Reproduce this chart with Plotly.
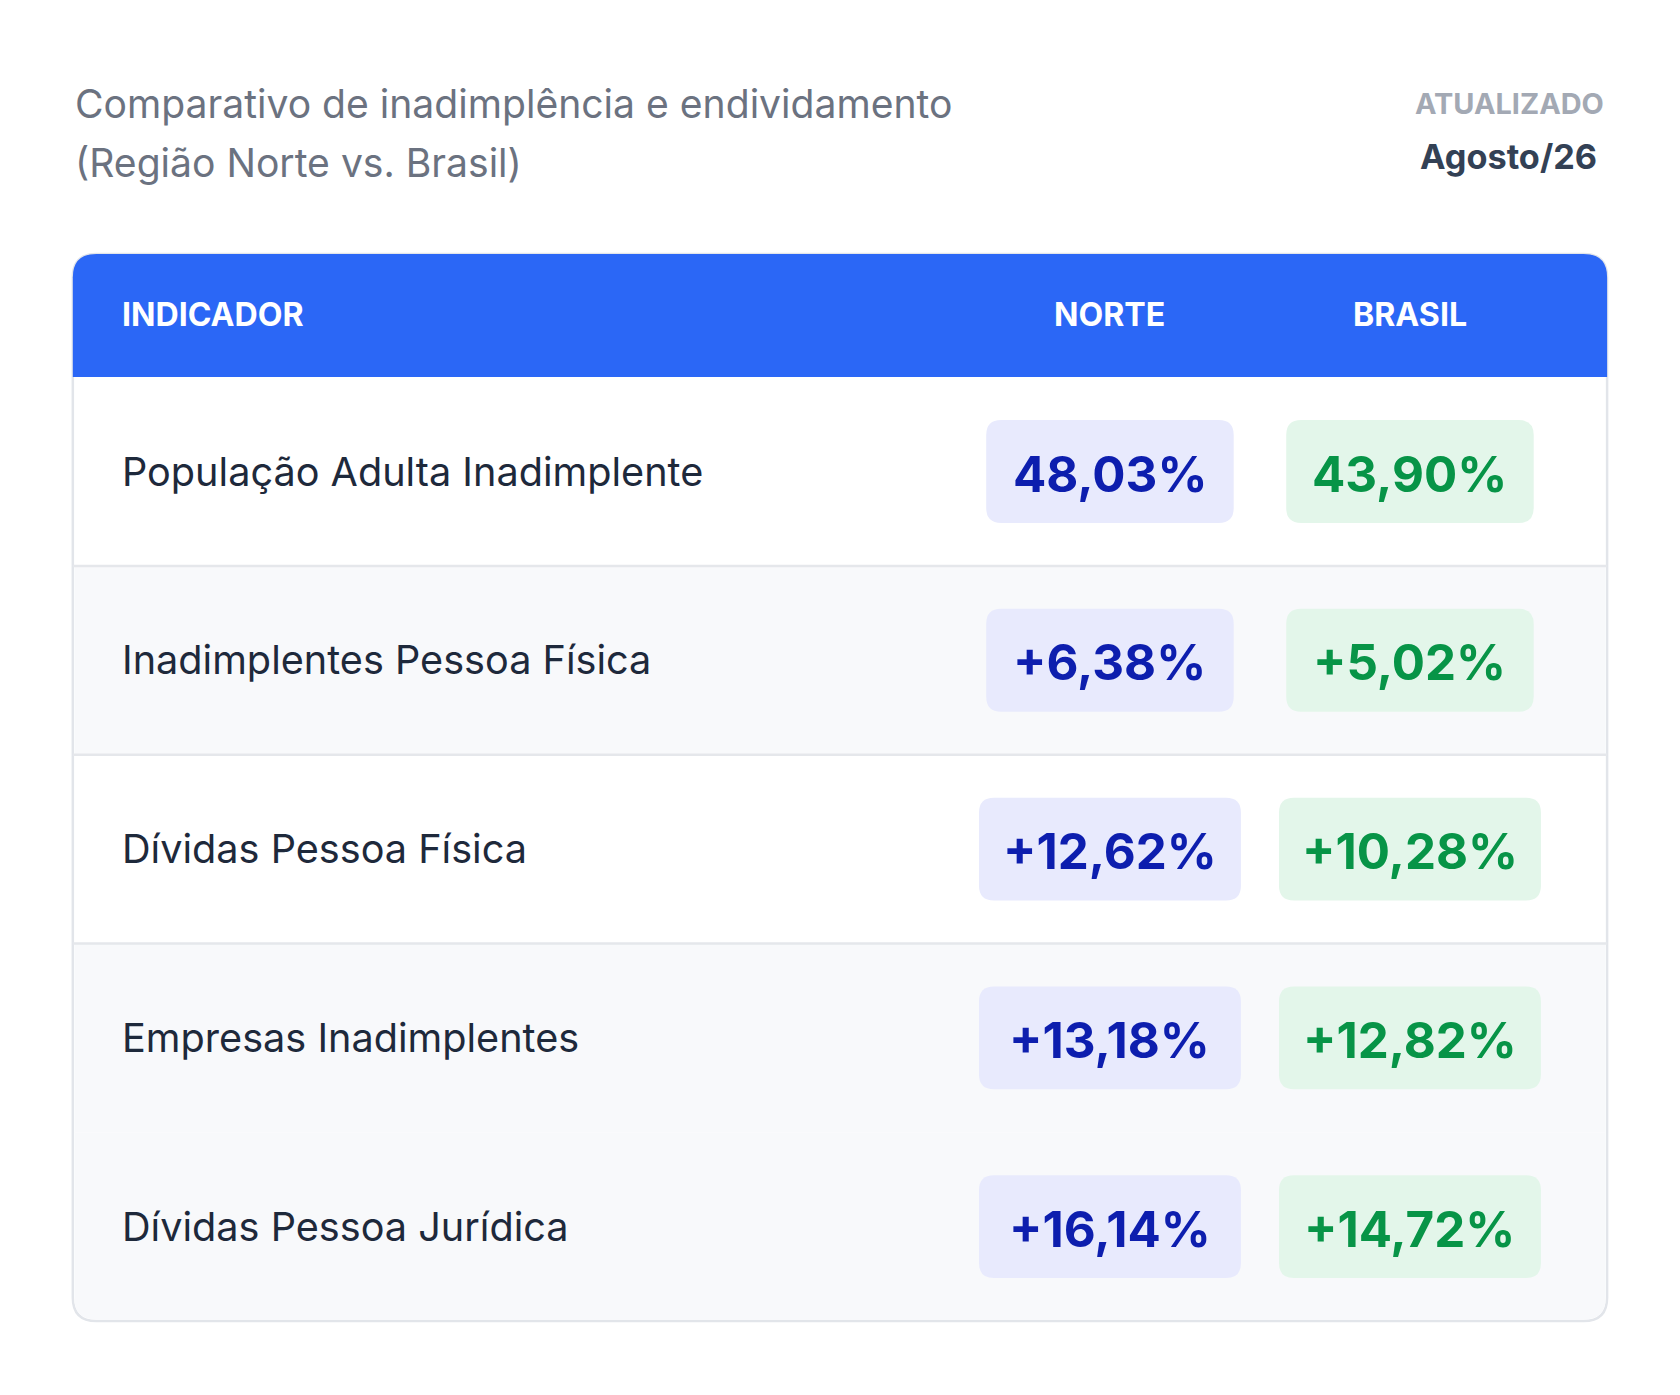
import plotly.graph_objects as go

indicadores = ["População Adulta Inadimplente", "Inadimplentes Pessoa Física",
               "Dívidas Pessoa Física", "Empresas Inadimplentes", "Dívidas Pessoa Jurídica"]
norte = ["48,03%", "+6,38%", "+12,62%", "+13,18%", "+16,14%"]
brasil = ["43,90%", "+5,02%", "+10,28%", "+12,82%", "+14,72%"]
colunas = ["INDICADOR", "NORTE", "BRASIL"]
titulo = ["Comparativo de inadimplência e endividamento", "(Região Norte vs. Brasil)"]
atualizado = ["ATUALIZADO", "Agosto/26"]

W, H = 1680, 1395
S = W / 1568
OX, OY = -7.5, -7.5
FONT = "Inter"

def rr(x0, y0, x1, y1, r, tl=True, tr=True, br=True, bl=True):
    x0, x1 = (x0 + OX) * S, (x1 + OX) * S
    y0, y1 = (y0 + OY) * S, (y1 + OY) * S
    r = r * S
    p = f"M{x0 + (r if tl else 0)},{y0} "
    p += f"L{x1 - (r if tr else 0)},{y0} "
    p += f"Q{x1},{y0} {x1},{y0 + r} " if tr else ""
    p += f"L{x1},{y1 - (r if br else 0)} "
    p += f"Q{x1},{y1} {x1 - r},{y1} " if br else ""
    p += f"L{x0 + (r if bl else 0)},{y1} "
    p += f"Q{x0},{y1} {x0},{y1 - r} " if bl else ""
    p += f"L{x0},{y0 + (r if tl else 0)} "
    p += f"Q{x0},{y0} {x0 + r},{y0} " if tl else ""
    return p + "Z"

shapes, ann = [], []

def text(x, y, t, size, color, anchor="left", bold=False):
    ann.append(dict(x=(x + OX) * S, y=(y + OY) * S, text=f"<b>{t}</b>" if bold else t, showarrow=False,
                    xanchor=anchor, yanchor="middle", xref="x", yref="y",
                    font=dict(family=FONT, size=size * S, color=color)))

text(68, 97, titulo[0], 36.5, "#6b7280")
text(68, 152, titulo[1], 36.5, "#6b7280")
text(1499, 97, atualizado[0], 27, "#a3a9b4", "right", True)
text(1492, 146, atualizado[1], 32, "#334155", "right", True)

cx0, cy0, cx1, cy1 = 68, 237, 1500, 1233
hdr = 352
rowh = (cy1 - hdr) / len(indicadores)
shapes.append(dict(type="path", path=rr(cx0, cy0, cx1, cy1, 22), fillcolor="#ffffff",
                   line=dict(color="#e2e5ea", width=2.5), layer="below"))
for i in range(len(indicadores)):
    y0 = hdr + i * rowh
    last = i == len(indicadores) - 1
    if i % 2 == 1 or last:
        shapes.append(dict(type="path", path=rr(cx0 + 1.5, y0, cx1 - 1.5, y0 + rowh - (1.5 if last else 0), 20,
                                                 tl=False, tr=False, br=last, bl=last),
                           fillcolor="#f8f9fb", line=dict(width=0), layer="below"))
for i in range(1, len(indicadores) - 1):
    y = (hdr + i * rowh + OY) * S
    shapes.append(dict(type="line", x0=(cx0 + OX) * S, x1=(cx1 + OX) * S, y0=y, y1=y,
                       line=dict(color="#e5e7eb", width=2.5)))
shapes.append(dict(type="path", path=rr(cx0, cy0, cx1, hdr, 22, bl=False, br=False),
                   fillcolor="#2b67f6", line=dict(width=0)))

text(112, 294, colunas[0], 30, "#ffffff", "left", True)
text(1036, 294, colunas[1], 30, "#ffffff", "center", True)
text(1316, 294, colunas[2], 30, "#ffffff", "center", True)

for i, (lab, n, b) in enumerate(zip(indicadores, norte, brasil)):
    yc = hdr + (i + 0.5) * rowh
    text(112, yc, lab, 37, "#1e293b")
    for xc, v, bg, fg in ((1036, n, "#e8eafd", "#0d1eae"), (1316, b, "#e3f6ea", "#079447")):
        w = 150 + 13.5 * len(v)
        shapes.append(dict(type="path", path=rr(xc - w / 2, yc - 48, xc + w / 2, yc + 48, 14),
                           fillcolor=bg, line=dict(width=0), layer="below"))
        text(xc, yc + 2, v, 46, fg, "center", True)

fig = go.Figure()
fig.update_layout(width=W, height=H, margin=dict(l=0, r=0, t=0, b=0),
                  paper_bgcolor="white", plot_bgcolor="white",
                  xaxis=dict(range=[0, W], visible=False, fixedrange=True),
                  yaxis=dict(range=[H, 0], visible=False, fixedrange=True),
                  shapes=shapes, annotations=ann, showlegend=False)
fig.write_html("out.html", config={"displayModeBar": False})
